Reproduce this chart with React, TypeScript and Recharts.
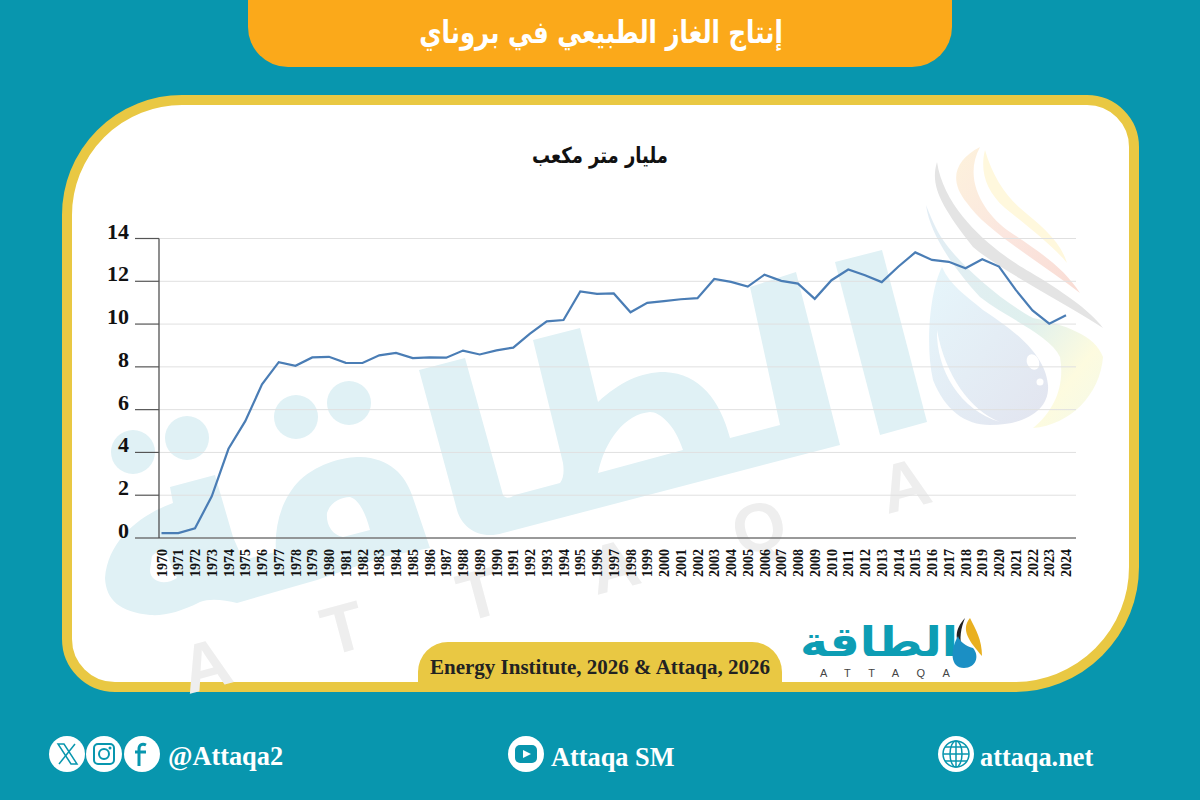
import React from "react";
import { LineChart, Line, XAxis, YAxis, CartesianGrid } from "recharts";

const years = [
  "1970","1971","1972","1973","1974","1975","1976","1977","1978","1979",
  "1980","1981","1982","1983","1984","1985","1986","1987","1988","1989",
  "1990","1991","1992","1993","1994","1995","1996","1997","1998","1999",
  "2000","2001","2002","2003","2004","2005","2006","2007","2008","2009",
  "2010","2011","2012","2013","2014","2015","2016","2017","2018","2019",
  "2020","2021","2022","2023","2024",
];
const production = [
  0.23,0.23,0.45,1.95,4.17,5.46,7.18,8.22,8.05,8.44,
  8.47,8.19,8.18,8.54,8.65,8.41,8.44,8.43,8.76,8.58,
  8.77,8.9,9.55,10.13,10.19,11.53,11.41,11.43,10.55,10.99,
  11.07,11.16,11.21,12.11,11.97,11.75,12.31,12.02,11.89,11.18,
  12.05,12.55,12.28,11.96,12.69,13.35,13.0,12.91,12.61,13.03,
  12.69,11.6,10.64,10.02,10.41,
];
const yTicks = [0, 2, 4, 6, 8, 10, 12, 14];
const rows = years.map((year, i) => ({ year, value: production[i] }));

const titleText = "إنتاج الغاز الطبيعي في بروناي";
const unitText = "مليار متر مكعب";
const sourceText = "Energy Institute, 2026 & Attaqa, 2026";
const logoText = "الطاقة";
const wmLetters = ["A", "T", "T", "A", "Q", "A"];
const wmPos = [[212, 688], [349, 651], [485, 617], [620, 589], [765, 550], [911, 508]];

const serif = "'Liberation Serif', serif";
const arabic = "'DejaVu Sans', sans-serif";
const teal = "#0896ae";
const gold = "#e9c843";
const pale = "#e0f1f5";

const YTick = (p: any) => (
  <text x={p.x - 4} y={p.y} textAnchor="end" fontFamily={serif} fontWeight={700} fontSize={22} fill="#111">
    {p.payload.value}
  </text>
);
const XTick = (p: any) => (
  <text
    transform={`translate(${p.x + 5},577) rotate(-90)`}
    fontFamily={serif}
    fontWeight={700}
    fontSize={14}
    fill="#111"
  >
    {p.payload.value}
  </text>
);

function Background() {
  return (
    <svg width={1200} height={800} style={{ position: "absolute", left: 0, top: 0 }}>
      <defs>
        <linearGradient id="drop" x1="0" y1="0" x2="1" y2="1">
          <stop offset="0" stopColor="#e6f6fb" />
          <stop offset="1" stopColor="#e2e4ef" />
        </linearGradient>
        <linearGradient id="swoop" x1="0" y1="0" x2="1" y2="1">
          <stop offset="0" stopColor="#e3edf5" />
          <stop offset="0.55" stopColor="#dff0ee" />
          <stop offset="0.8" stopColor="#fdfbdf" />
          <stop offset="1" stopColor="#f3f9ea" />
        </linearGradient>
        <linearGradient id="flame" x1="0" y1="0" x2="1" y2="1">
          <stop offset="0" stopColor="#fdf2dc" />
          <stop offset="0.5" stopColor="#fbe6df" />
          <stop offset="1" stopColor="#f9dcd4" />
        </linearGradient>
      </defs>
      <rect width={1200} height={800} fill={teal} />
      <path d="M248,-40 H952 V27 A40,40 0 0 1 912,67 H288 A40,40 0 0 1 248,27 Z" fill="#fba91a" />
      <path
        d="M182,100 H1087 A47,47 0 0 1 1134,147 V567 A120,120 0 0 1 1014,687 H115 A48,48 0 0 1 67,639 V215 A115,115 0 0 1 182,100 Z"
        fill="#fff"
        stroke={gold}
        strokeWidth={10}
      />
      {/* watermark */}
      <g fill={pale} fillRule="evenodd">
        <circle cx={133} cy={452} r={22} />
        <circle cx={187} cy={438} r={22} />
        <circle cx={296} cy={417} r={22} />
        <circle cx={349} cy={403} r={22} />
        <path d="M105,578 C108,540 140,515 173,503 L170,487 L215,475 L233,537 L243,560 L276,552 C274,525 282,498 300,480 C320,462 345,457 360,457 C390,458 405,475 412,495 L430,548 L383,557 L317,580 L237,603 C225,600 210,598 200,602 C180,612 165,616 150,615 C120,612 106,600 105,578 Z M152,556 C160,548 168,552 170,562 L177,578 C165,586 150,582 150,570 Z M327,513 C330,503 340,497 350,497 C360,500 366,515 370,530 L343,537 C332,535 326,525 327,513 Z" />
        <path d="M419,370 L465,358 L503,495 C506,499 510,498 515,495 L560,483 C564,478 564,470 563,463 L533,340 L580,328 L598,402 C620,382 640,372 665,372 C700,374 720,400 730,438 L780,425 L750,287 L796,272 L840,445 L503,533 C480,540 462,528 457,510 Z M598,473 L683,450 C675,425 660,412 650,412 C625,414 605,440 598,473 Z" />
        <path d="M835,262 L882,250 L927,422 L880,435 Z" />
      </g>
      <g fontFamily="'Liberation Sans', sans-serif" fontWeight={700} fontSize={68} fill="#eeeeee">
        {wmLetters.map((c, i) => (
          <text
            key={i}
            transform={`translate(${wmPos[i][0]},${wmPos[i][1]}) rotate(-15)`}
            textAnchor="middle"
          >
            {c}
          </text>
        ))}
      </g>
      <path d="M985,150 C980,170 985,190 1005,208 C1030,228 1055,248 1067,263 C1060,240 1040,225 1020,208 C1005,195 992,175 985,150 Z" fill="#fff8dd" />
      <path d="M980,147 C955,160 948,180 967,203 C985,230 1040,262 1080,293 C1065,270 1045,255 1010,232 C985,215 962,180 980,147 Z" fill="url(#flame)" />
      <path d="M937,162 C930,185 940,205 973,247 C1000,270 1060,300 1103,328 C1090,310 1060,290 1030,272 C1000,255 945,215 937,162 Z" fill="#e4e4e4" />
      <path d="M926,205 C930,235 955,270 980,297 C1010,320 1050,335 1060,357 C1065,385 1055,410 1033,428 C1070,425 1100,395 1103,357 C1095,335 1065,325 1033,318 C1000,300 960,265 943,240 C935,228 930,215 926,205 Z" fill="url(#swoop)" />
      <path d="M942,267 C930,290 925,345 933,380 C945,410 965,425 990,425 C1025,425 1050,410 1048,385 C1045,350 1005,325 983,310 C965,295 950,285 942,267 Z" fill="url(#drop)" />
      <path d="M937,330 C936,370 960,410 1000,422 C970,410 945,375 937,330 Z" fill="#fff" />
      <ellipse cx={1033} cy={362} rx={6} ry={8} fill="#fff" transform="rotate(-25 1033 362)" />
      <circle cx={1040} cy={382} r={3.5} fill="#fff" />
    </svg>
  );
}

function Foreground() {
  return (
    <svg width={1200} height={800} style={{ position: "absolute", left: 0, top: 0 }}>
      <text transform="translate(601,43) scale(0.905,1.15)" textAnchor="middle" direction="rtl" fontFamily={arabic} fontWeight={700} fontSize={27} fill="#fff">
        {titleText}
      </text>
      <text transform="translate(600,163) scale(0.9,1.1)" textAnchor="middle" direction="rtl" fontFamily={arabic} fontWeight={700} fontSize={20} fill="#111">
        {unitText}
      </text>
      <path d="M418,684 V672 A30,30 0 0 1 448,642 H752 A30,30 0 0 1 782,672 V684 Z" fill={gold} />
      <text x={600} y={674} textAnchor="middle" fontFamily={serif} fontWeight={700} fontSize={21} fill="#222">
        {sourceText}
      </text>
      {/* logo */}
      <text transform="translate(879,656) scale(0.95,0.82)" textAnchor="middle" direction="rtl" fontFamily={arabic} fontWeight={700} fontSize={50} fill="#0d9db4">
        {logoText}
      </text>
      <text x={820} y={677} fontFamily="'Liberation Sans', sans-serif" fontSize={11} letterSpacing={17.5} fill="#444">
        ATTAQA
      </text>
      <path d="M965,618 C954,630 955,640 962,650 C959,638 961,628 965,618 Z" fill="#222" />
      <path d="M970,618 C960,630 970,642 982,656 C982,640 976,630 970,618 Z" fill="#e9b020" />
      <path d="M958,636 C950,650 950,668 964,668 C976,668 980,656 973,648 C966,646 960,642 958,636 Z" fill="#1b8fc4" />
      {/* footer */}
      <g fill="#fff">
        <circle cx={67} cy={754} r={18} />
        <circle cx={104} cy={754} r={18} />
        <circle cx={142} cy={754} r={18} />
        <circle cx={526} cy={754} r={18} />
        <circle cx={956} cy={754} r={18} />
      </g>
      <g stroke={teal} fill="none" strokeWidth={1.5}>
        <path d="M58,744 L64,744 L77,764 L71,764 Z" />
        <path d="M75,744 L59,764" />
        <rect x={94} y={744} width={20} height={20} rx={4} strokeWidth={2} />
        <circle cx={104} cy={754} r={5} strokeWidth={2} />
        <circle cx={956} cy={754} r={13} />
        <ellipse cx={956} cy={754} rx={6} ry={13} />
        <path d="M943,754 H969 M945,747 H967 M945,761 H967 M956,741 V767" />
      </g>
      <circle cx={110} cy={748} r={1.5} fill={teal} />
      <path d="M146,745 C142,743 139,745 139,749 V766 M135,752 H146" stroke={teal} strokeWidth={3} fill="none" />
      <rect x={515} y={745} width={22} height={18} rx={5} fill={teal} />
      <path d="M523,750 L531,754 L523,758 Z" fill="#fff" />
      <g fontFamily={serif} fontWeight={700} fontSize={26.3} fill="#fff">
        <text x={168} y={765}>@Attaqa2</text>
        <text x={551} y={766}>Attaqa SM</text>
        <text x={980} y={766}>attaqa.net</text>
      </g>
    </svg>
  );
}

export default function App() {
  return (
    <div style={{ position: "fixed", left: 0, top: 0, width: 1200, height: 800, overflow: "hidden" }}>
      <Background />
      <div style={{ position: "absolute", left: 0, top: 0 }}>
        <LineChart
          width={1200}
          height={800}
          data={rows}
          margin={{ top: 238.5, left: 99, right: 124, bottom: 222 }}
        >
          <CartesianGrid horizontal vertical={false} stroke="#e0e0e0" strokeWidth={1} />
          <XAxis
            dataKey="year"
            interval={0}
            height={40}
            padding={{ left: 2.5, right: 10 }}
            tickLine={false}
            axisLine={{ stroke: "#444", strokeWidth: 1.2 }}
            tick={<XTick />}
          />
          <YAxis
            width={60}
            domain={[0, 14]}
            ticks={yTicks}
            interval={0}
            tickSize={24}
            tickLine={{ stroke: "#555", strokeWidth: 1.2 }}
            axisLine={{ stroke: "#444", strokeWidth: 1.2 }}
            tick={<YTick />}
          />
          <Line
            dataKey="value"
            type="linear"
            stroke="#4a7db5"
            strokeWidth={2.2}
            dot={false}
            isAnimationActive={false}
          />
        </LineChart>
      </div>
      <Foreground />
    </div>
  );
}
